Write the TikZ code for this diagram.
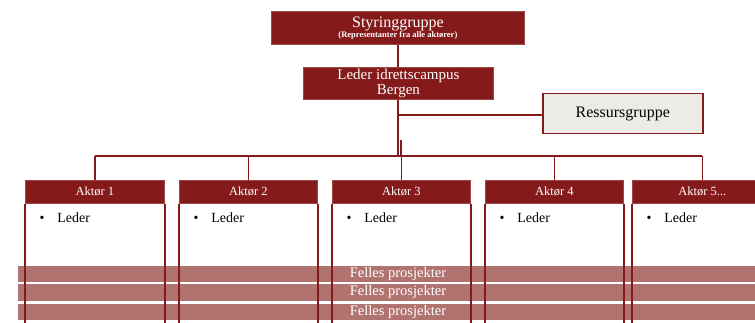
\documentclass[tikz,border=0pt]{standalone}
\usepackage{fontspec}
\setmainfont{Liberation Serif}
\definecolor{dred}{HTML}{841A1A}
\definecolor{bar}{HTML}{B07370}
\definecolor{lgray}{HTML}{EDEBE8}
\begin{document}
\begin{tikzpicture}[x=1pt,y=-1pt,
  redbox/.style={draw=dred!80!white,fill=dred,text=white,inner sep=0pt,line width=0.8pt},
  hdrbox/.style={redbox,minimum height=23pt,font=\fontsize{12.5}{13}\selectfont},
  conn/.style={draw=dred,line width=1.5pt},
  colline/.style={draw=dred,line width=1.5pt},
  barbox/.style={fill=bar,draw=none,inner sep=0pt},
  bartext/.style={text=white,font=\fontsize{14.5}{14}\selectfont}]
\useasboundingbox (0,0) rectangle (755,323);
% top boxes
\node[redbox,minimum width=253pt,minimum height=33pt,anchor=north west,align=center] (sty) at (271,11)
  {{\fontsize{16}{16}\selectfont Styringgruppe}\\[-2pt]{\fontsize{8.5}{9}\selectfont\bfseries (Representanter fra alle aktører)}};
\node[redbox,minimum width=190pt,minimum height=32pt,anchor=north west,align=center,font=\fontsize{15}{15}\selectfont] (led) at (303,67)
  {Leder idrettscampus\\Bergen};
\node[draw=dred,line width=1.5pt,fill=lgray,minimum width=160pt,minimum height=40pt,anchor=north west,font=\fontsize{16}{16}\selectfont] (res) at (542,93) {Ressursgruppe};
% connectors
\coordinate (bus) at (398,156);
\coordinate (jog2) at (401,140);
\coordinate (resj) at (398,115);
\draw[conn] (sty.south -| bus) -- (led.north -| bus);
\draw[conn] (led.south -| bus) -- (bus);
\draw[conn] (resj) -- (resj -| res.west);
\draw[conn] (jog2) -- (jog2 |- bus);
% headers
\node[hdrbox,minimum width=139pt,anchor=north west] (a1) at (25,180) {Aktør 1};
\node[hdrbox,minimum width=138pt,anchor=north west] (a2) at (179,180) {Aktør 2};
\node[hdrbox,minimum width=138pt,anchor=north west] (a3) at (332,180) {Aktør 3};
\node[hdrbox,minimum width=138pt,anchor=north west] (a4) at (485,180) {Aktør 4};
\node[hdrbox,minimum width=140pt,anchor=north west] (a5) at (632,180) {Aktør 5...};
\draw[conn] (a1.north |- bus) -- (a5.north |- bus);
\foreach \n in {a1,a2,a3,a4,a5}{\draw[conn] (\n.north |- bus) -- (\n.north);}
% bars
\node[barbox,minimum width=737pt,minimum height=16pt,anchor=north west] (b1) at (18,266) {};
\node[barbox,minimum width=737pt,minimum height=17pt,anchor=north west] (b2) at (18,284) {};
\node[barbox,minimum width=737pt,minimum height=16pt,anchor=north west] (b3) at (18,304) {};
\node[bartext] (t1) at (398,274) {Felles prosjekter};
\node[bartext] (t2) at (398,292.5) {Felles prosjekter};
\node[bartext] (t3) at (398,312) {Felles prosjekter};
% column sides
\foreach \n in {a1,a2,a3,a4,a5}{
  \draw[colline] (\n.south west) -- (\n.south west |- 0,330);
  \draw[colline] (\n.south east) -- (\n.south east |- 0,330);
  \node[anchor=west,font=\fontsize{14}{14}\selectfont] (\n l) at ([xshift=11pt,yshift=-14pt]\n.south west) {\textbullet\hspace{13pt}Leder};
}
\end{tikzpicture}
\end{document}
